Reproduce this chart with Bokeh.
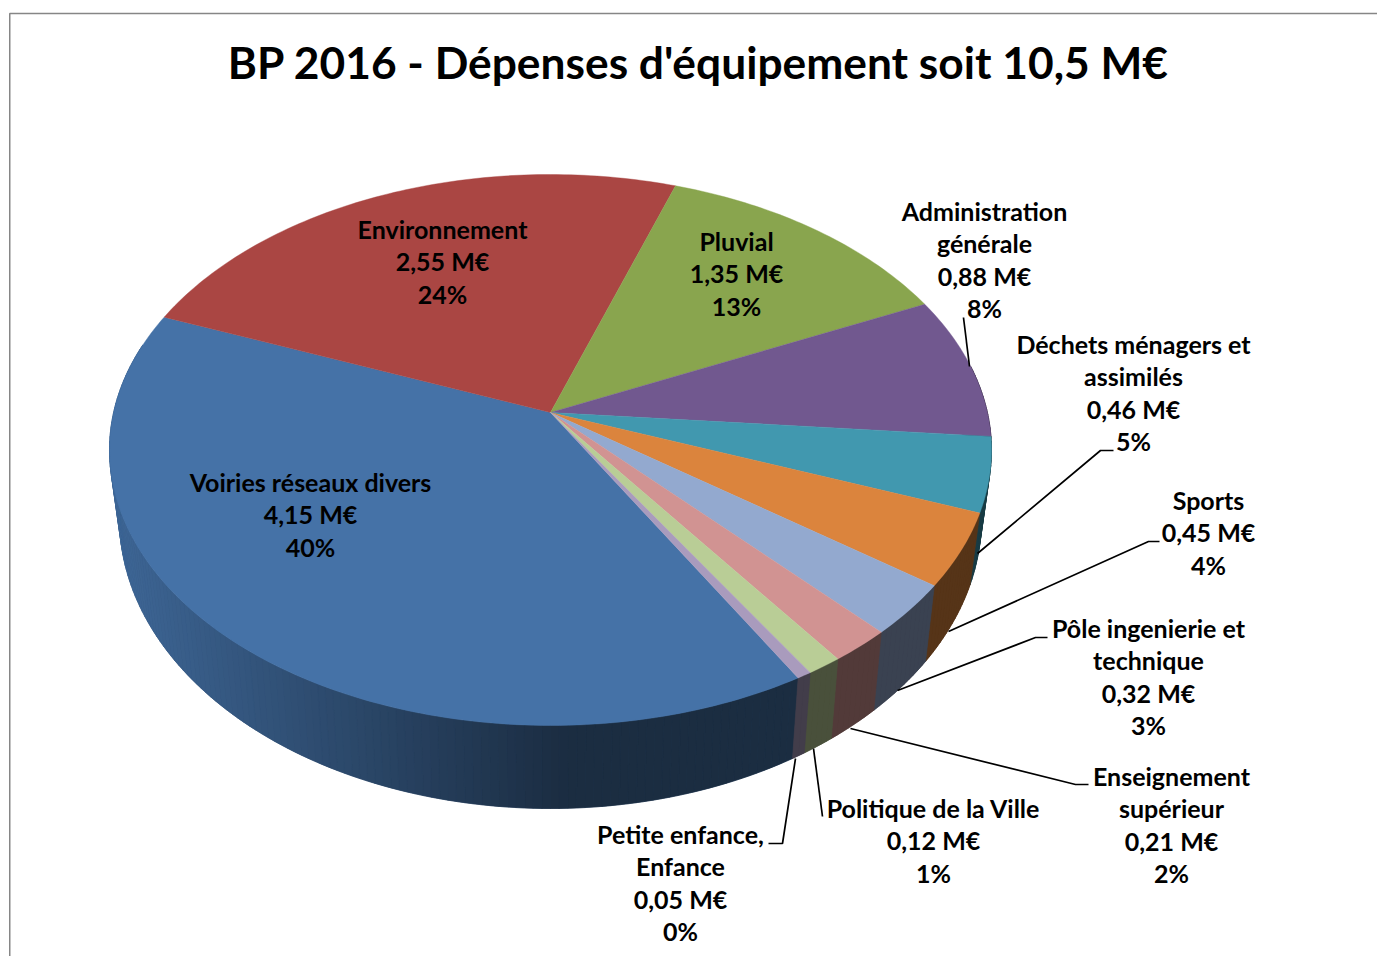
import math
from bokeh.plotting import figure
from bokeh.models import ColumnDataSource
from bokeh.core.properties import value
from bokeh.embed import file_html
from bokeh.resources import INLINE

TITLE = "BP 2016 - Dépenses d'équipement soit 10,5 M€"
categories = ["Voiries réseaux divers", "Environnement", "Pluvial", "Administration\ngénérale",
              "Déchets ménagers et\nassimilés", "Sports", "Pôle ingenierie et\ntechnique",
              "Enseignement\nsupérieur", "Politique de la Ville", "Petite enfance,\nEnfance"]
amounts = [4.15, 2.55, 1.35, 0.88, 0.46, 0.45, 0.32, 0.21, 0.12, 0.05]
amount_labels = ["4,15 M€", "2,55 M€", "1,35 M€", "0,88 M€", "0,46 M€", "0,45 M€", "0,32 M€", "0,21 M€", "0,12 M€", "0,05 M€"]
percent_labels = ["40%", "24%", "13%", "8%", "5%", "4%", "3%", "2%", "1%", "0%"]
colors = ["#4572A7", "#AA4643", "#89A54E", "#71588F", "#4198AF", "#DB843D", "#93A9CF", "#D19392", "#B9CD96", "#A99BBD"]

# layout (page pixels)
W, H = 1377, 956
OX, OY = 0, 0
CX, CY, RX, RY = 550.0, 449.5, 441.0, 275.5
APEX_Y = 412.0
BX, BY, BRX, BRY = 550.0, 518.0, 431.0, 290.0
START = 150.0
label_x = [310, 442, 736, 984, 1133, 1208, 1148, 1171, 933, 680]
label_first_y = [481, 228, 240, 210, 343, 499, 627, 775, 807, 833]
LINE_H = 32.5
FONT = "Lato"
LABEL_SIZE = "25px"
TITLE_SIZE = "44.3px"
leaders_x = [[963, 969], [1113, 1100, 977], [1159, 1148, 948], [1047, 1035, 897], [1088, 1075, 850], [822, 813], [768, 782, 795]]
leaders_y = [[317, 366], [450, 450, 553], [541, 541, 631], [637, 637, 690], [784, 784, 728], [816, 748], [843, 843, 758]]

A = (APEX_Y - CY) / RY
S = math.sqrt(1 - A * A)


def rim(theta):
    """Normalised rim point for a plan angle (deg, clockwise from 12 o'clock), in perspective."""
    t = math.radians(theta)
    u, v = math.sin(t), -math.cos(t)
    d = 1 + A * v
    return u * S / d, (v + A) / d


def top_xy(theta):
    U, V = rim(theta)
    return CX + RX * U, CY + RY * V


def bottom_xy(theta):
    U, V = rim(theta)
    return BX + BRX * U, BY + BRY * V


def shade(x):
    f = 0.9 - 0.5 * (x - 115) / 445
    return max(0.395, min(0.9, f))


def dim(c, f):
    r, g, b = int(c[1:3], 16), int(c[3:5], 16), int(c[5:7], 16)
    return "#%02x%02x%02x" % (int(r * f), int(g * f), int(b * f))


total = sum(amounts)
edges = [START]
for a in amounts:
    edges.append(edges[-1] + a / total * 360)

p = figure(width=W, height=H, x_range=(OX, OX + W), y_range=(OY + H, OY), output_backend="svg",
           toolbar_location=None, min_border=0, outline_line_color=None, background_fill_color="white")
p.axis.visible = False
p.grid.visible = False

# frame
p.line([9.25, 9.25, OX + W], [OY + H, 13, 13], line_color="#868686", line_width=1.5)

# side wall: a solid underlay per slice, then shaded strips
VIS0, VIS1 = 80, 285
ux, uy, uc = [], [], []
sx, sy, sc = [], [], []
for i, col in enumerate(colors):
    a0, a1 = edges[i], edges[i + 1]
    if a0 >= 360:
        a0, a1 = a0 - 360, a1 - 360
    a0, a1 = max(a0, VIS0), min(a1, VIS1)
    if a1 <= a0:
        continue
    n = max(1, int(math.ceil(a1 - a0)))
    ts = [a0 + (a1 - a0) * k / n for k in range(n + 1)]
    ux.append([top_xy(t)[0] for t in ts] + [bottom_xy(t)[0] for t in reversed(ts)])
    uy.append([top_xy(t)[1] for t in ts] + [bottom_xy(t)[1] for t in reversed(ts)])
    uc.append(dim(col, shade(sum(top_xy(t)[0] for t in ts) / len(ts))))
    for k in range(n):
        t0, t1 = ts[k], ts[k + 1]
        x0, y0 = top_xy(t0)
        x1, y1 = top_xy(t1)
        x2, y2 = bottom_xy(t1)
        x3, y3 = bottom_xy(t0)
        sx.append([x0, x1, x2, x3])
        sy.append([y0, y1, y2, y3])
        sc.append(dim(col, shade((x0 + x1 + x2 + x3) / 4)))
p.patches("xs", "ys", source=ColumnDataSource(dict(xs=ux, ys=uy, c=uc)), fill_color="c", line_color="c", line_width=0.4)
p.patches("xs", "ys", source=ColumnDataSource(dict(xs=sx, ys=sy, c=sc)), fill_color="c", line_color="c", line_width=0.6)

# top face
wx, wy = [], []
for i in range(len(amounts)):
    a0, a1 = edges[i], edges[i + 1]
    n = max(2, int(math.ceil((a1 - a0) / 1.0)))
    pts = [top_xy(a0 + (a1 - a0) * k / n) for k in range(n + 1)]
    wx.append([CX] + [q[0] for q in pts])
    wy.append([APEX_Y] + [q[1] for q in pts])
top = ColumnDataSource(dict(xs=wx, ys=wy, c=colors))
p.patches("xs", "ys", source=top, fill_color="c", line_color="c", line_width=0.4)

# leader lines
p.multi_line(leaders_x, leaders_y, line_color="black", line_width=1.7)

# labels
tx, ty, tt = [], [], []
for i, name in enumerate(categories):
    lines = name.split("\n") + [amount_labels[i], percent_labels[i]]
    for j, line in enumerate(lines):
        tx.append(label_x[i])
        ty.append(label_first_y[i] + j * LINE_H)
        tt.append(line)
p.text(tx, ty, text=tt, text_font=value(FONT), text_font_style="bold", text_font_size=LABEL_SIZE,
       text_align="center", text_baseline="middle", text_color="black")
p.text([698], [61], text=[TITLE], text_font=value(FONT), text_font_style="bold", text_font_size=TITLE_SIZE,
       text_align="center", text_baseline="middle", text_color="black")

open("out.html", "w").write(file_html(p, INLINE))
